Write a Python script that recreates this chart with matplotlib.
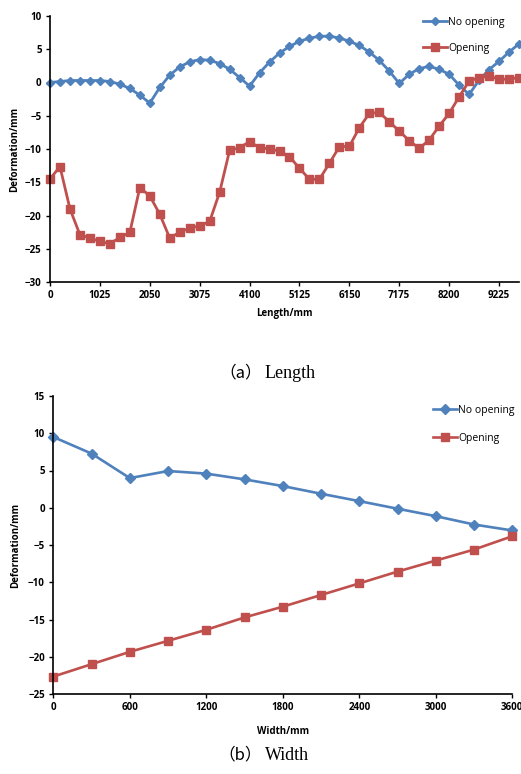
import numpy as np
import matplotlib
matplotlib.use("Agg")
import matplotlib.pyplot as plt

# data ------------------------------------------------------------
length_x = np.arange(48) * 205          # 0 .. 9635 mm
length_ticks = [0, 1025, 2050, 3075, 4100, 5125, 6150, 7175, 8200, 9225]

length_no_opening = [0.0, 0.15, 0.3, 0.3, 0.3, 0.3, 0.15, -0.25, -0.9, -1.9,
                     -3.1, -0.75, 1.1, 2.35, 3.1, 3.45, 3.35, 2.85, 2.0, 0.75,
                     -0.55, 1.45, 3.07, 4.42, 5.42, 6.2, 6.66, 6.96, 6.96, 6.7,
                     6.2, 5.57, 4.57, 3.33, 1.73, -0.15, 1.24, 2.09, 2.43, 1.98,
                     1.24, -0.4, -1.8, 0.34, 1.94, 3.18, 4.57, 5.82]
length_opening = [-14.5, -12.65, -19.0, -22.9, -23.4, -23.9, -24.25, -23.3, -22.55, -15.8,
                  -17.05, -19.8, -23.4, -22.5, -21.9, -21.55, -20.9, -16.5, -10.2, -9.8,
                  -8.9, -9.8, -10.0, -10.3, -11.15, -12.9, -14.55, -14.55, -12.15, -9.65,
                  -9.6, -6.8, -4.65, -4.5, -5.9, -7.3, -8.75, -9.9, -8.65, -6.55,
                  -4.65, -2.15, 0.2, 0.75, 0.95, 0.5, 0.5, 0.75]

width_x = np.arange(13) * 300           # 0 .. 3600 mm
width_ticks = [0, 600, 1200, 1800, 2400, 3000, 3600]
width_no_opening = [9.5, 7.27, 3.98, 4.93, 4.58, 3.81, 2.91, 1.88, 0.89, -0.13, -1.13, -2.25, -3.05]
width_opening = [-22.66, -21.0, -19.34, -17.86, -16.38, -14.72, -13.28, -11.71, -10.15, -8.57, -7.09, -5.61, -3.82]

blue = "#4F81BD"
red = "#C0504D"
tick_font = "Open Sans"

fig = plt.figure(figsize=(5.21, 7.74), dpi=100)


def style_axes(ax):
    for s in ("top", "right"):
        ax.spines[s].set_visible(False)
    for s in ("left", "bottom"):
        ax.spines[s].set_linewidth(1.2)
    ax.tick_params(direction="out", length=3, width=1.0, labelsize=7, pad=3)
    for lab in ax.get_xticklabels() + ax.get_yticklabels():
        lab.set_fontfamily(tick_font)
        lab.set_fontweight("bold")


def caption(y, tag, word):
    # fullwidth brackets from the CJK font, the word in a serif face
    fig.text(262 / 521, 1 - y / 774, tag, ha="right", va="center",
             fontsize=12, family="Noto Sans CJK SC")
    fig.text(265 / 521, 1 - y / 774, word, ha="left", va="center",
             fontsize=13, family="Liberation Serif")


# (a) Length ------------------------------------------------------
ax1 = fig.add_axes([50 / 521, 492 / 774, 469 / 521, 266 / 774])
ax1.plot(length_x, length_no_opening, color=blue, lw=2.0, marker="D", ms=4.5,
         label="No opening", clip_on=False)
ax1.plot(length_x, length_opening, color=red, lw=2.0, marker="s", ms=5.5,
         label="Opening", clip_on=False)
ax1.set_xlim(0, 9635)
ax1.set_ylim(-30, 10)
ax1.set_xticks(length_ticks)
ax1.set_yticks(np.arange(-30, 11, 5))
style_axes(ax1)
ax1.set_xlabel("Length/mm", fontsize=7, fontweight="bold", family=tick_font, labelpad=5)
ax1.set_ylabel("Deformation/mm", fontsize=7, fontweight="bold", family=tick_font, labelpad=3)
ax1.legend(loc="upper left", bbox_to_anchor=(423 / 521, 1 - 17 / 774),
           bbox_transform=fig.transFigure, frameon=False,
           handlelength=2.3, handletextpad=0.1, labelspacing=1.4,
           borderpad=0, borderaxespad=0, prop={"family": tick_font, "size": 7.5})
caption(373, "（a）", "Length")

# (b) Width -------------------------------------------------------
ax2 = fig.add_axes([53.3 / 521, 80 / 774, 459 / 521, 298 / 774])
ax2.plot(width_x, width_no_opening, color=blue, lw=1.9, marker="D", ms=5,
         label="No opening", clip_on=False)
ax2.plot(width_x, width_opening, color=red, lw=1.9, marker="s", ms=6,
         label="Opening", clip_on=False)
ax2.set_xlim(0, 3600)
ax2.set_ylim(-25, 15)
ax2.set_xticks(width_ticks)
ax2.set_yticks(np.arange(-25, 16, 5))
style_axes(ax2)
ax2.set_xlabel("Width/mm", fontsize=7, fontweight="bold", family=tick_font, labelpad=9)
ax2.set_ylabel("Deformation/mm", fontsize=7, fontweight="bold", family=tick_font, labelpad=5)
ax2.legend(loc="upper left", bbox_to_anchor=(433 / 521, 1 - 405 / 774),
           bbox_transform=fig.transFigure, frameon=False,
           handlelength=2.3, handletextpad=0.1, labelspacing=1.6,
           borderpad=0, borderaxespad=0, prop={"family": tick_font, "size": 7.5})
caption(755, "（b）", "Width")

fig.savefig("out.png", dpi=100)
